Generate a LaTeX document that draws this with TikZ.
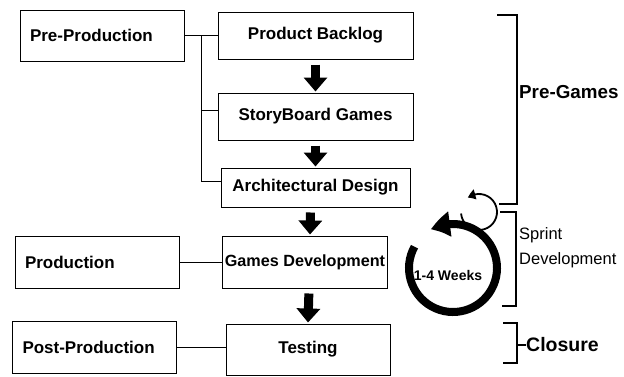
\documentclass[tikz,border=0pt]{standalone}
\usepackage{fontspec}
\setmainfont{Liberation Sans}
\usetikzlibrary{arrows.meta,bending}
\tikzset{box/.style={draw, line width=1pt, inner xsep=2pt,
  font=\fontsize{17}{20}\selectfont\bfseries},
  phase/.style={box, text width=144pt, inner xsep=10pt, align=left, minimum height=52pt},
  bigarrow/.style={line width=9pt, -{Triangle[length=14pt,width=23pt]}, shorten <=5pt, shorten >=1pt},
  bracket/.style={line width=2.6pt},
  tag/.style={anchor=west, inner sep=0pt, font=\fontsize{18.8}{22}\selectfont\bfseries}}
\begin{document}
\begin{tikzpicture}[x=1pt, y=1pt]
      \useasboundingbox (0,0) rectangle (624,376);

      \node [phase, minimum height=51pt] (pre) at (102, 340.5) {Pre-Production};
      \node [phase] (prod) at (97, 114) {Production};
      \node [phase] (post) at (94.5, 29) {Post-Production};

      \node [box, minimum width=195pt, minimum height=47pt] (backlog) at (315.5, 340.5) {Product Backlog};
      \node [box, minimum width=195pt, minimum height=47pt] (story) at (315.5, 259.5) {StoryBoard Games};
      \node [box, minimum width=189pt, minimum height=39pt] (arch) at (315.5, 188.5) {Architectural Design};
      \node [box, minimum width=164pt, minimum height=52pt, font=\fontsize{16.2}{19}\selectfont\bfseries] (gamesdev) at (305, 114) {Games Development};
      \node [box, minimum width=164pt, minimum height=51pt] (testing) at (308, 26.5) {Testing};

      \coordinate (trunk) at (201, 340.5);
      \draw [line width=0.8pt] (pre.east) -- (backlog.west);
      \draw [line width=0.8pt] (trunk) |- ([yshift=6pt]story.west);
      \draw [line width=0.8pt] (trunk) |- ([yshift=6pt]arch.west);
      \draw [line width=0.8pt] (prod.east) -- (gamesdev.west);
      \draw [line width=0.8pt] (post.east) -- (post.east -| testing.west);

      \draw [bigarrow] (backlog) -- (story);
      \draw [bigarrow] (story) -- (arch);
      \draw [bigarrow] ([xshift=-5pt]arch.south) -- ([xshift=5pt]gamesdev.north);
      \draw [bigarrow] ([xshift=4pt]gamesdev.south) -- (testing.north);

      \draw [bracket] (497,361) -- (517,361) -- (517,172) -- (499,172);
      \draw [bracket] (500,164) -- (516,164) -- (516,70) -- (502,70);
      \draw [bracket] (503,53) -- (517,53) -- (517,13) -- (503,13);
      \draw [bracket] (517,31) -- (526,31);
      \node [tag] (pregames) at (519, 284) {Pre-Games};
      \node [tag, font=\fontsize{16.5}{19}\selectfont] (sprint) at (519, 141) {Sprint};
      \node [tag, font=\fontsize{16.5}{19}\selectfont] (develop) at (519, 116) {Development};
      \node [tag, font=\fontsize{19.5}{23}\selectfont\bfseries] (closure) at (526, 31) {Closure};

      \coordinate (cyc) at (453, 108);
      \draw [line width=8pt, -{Triangle[length=20pt,width=24pt,bend]}] (cyc) ++(151:44) arc [start angle=151, end angle=480, radius=44];
      \coordinate (small) at (479, 164);
      \draw [line width=1.8pt, -{Triangle[length=8pt,width=10pt,bend]}] (small) ++(185:18) arc [start angle=185, end angle=488, radius=18];
      \node [font=\fontsize{14}{16}\selectfont\bfseries] (weeks) at (448, 101) {1-4 Weeks};
    \end{tikzpicture}
\end{document}
